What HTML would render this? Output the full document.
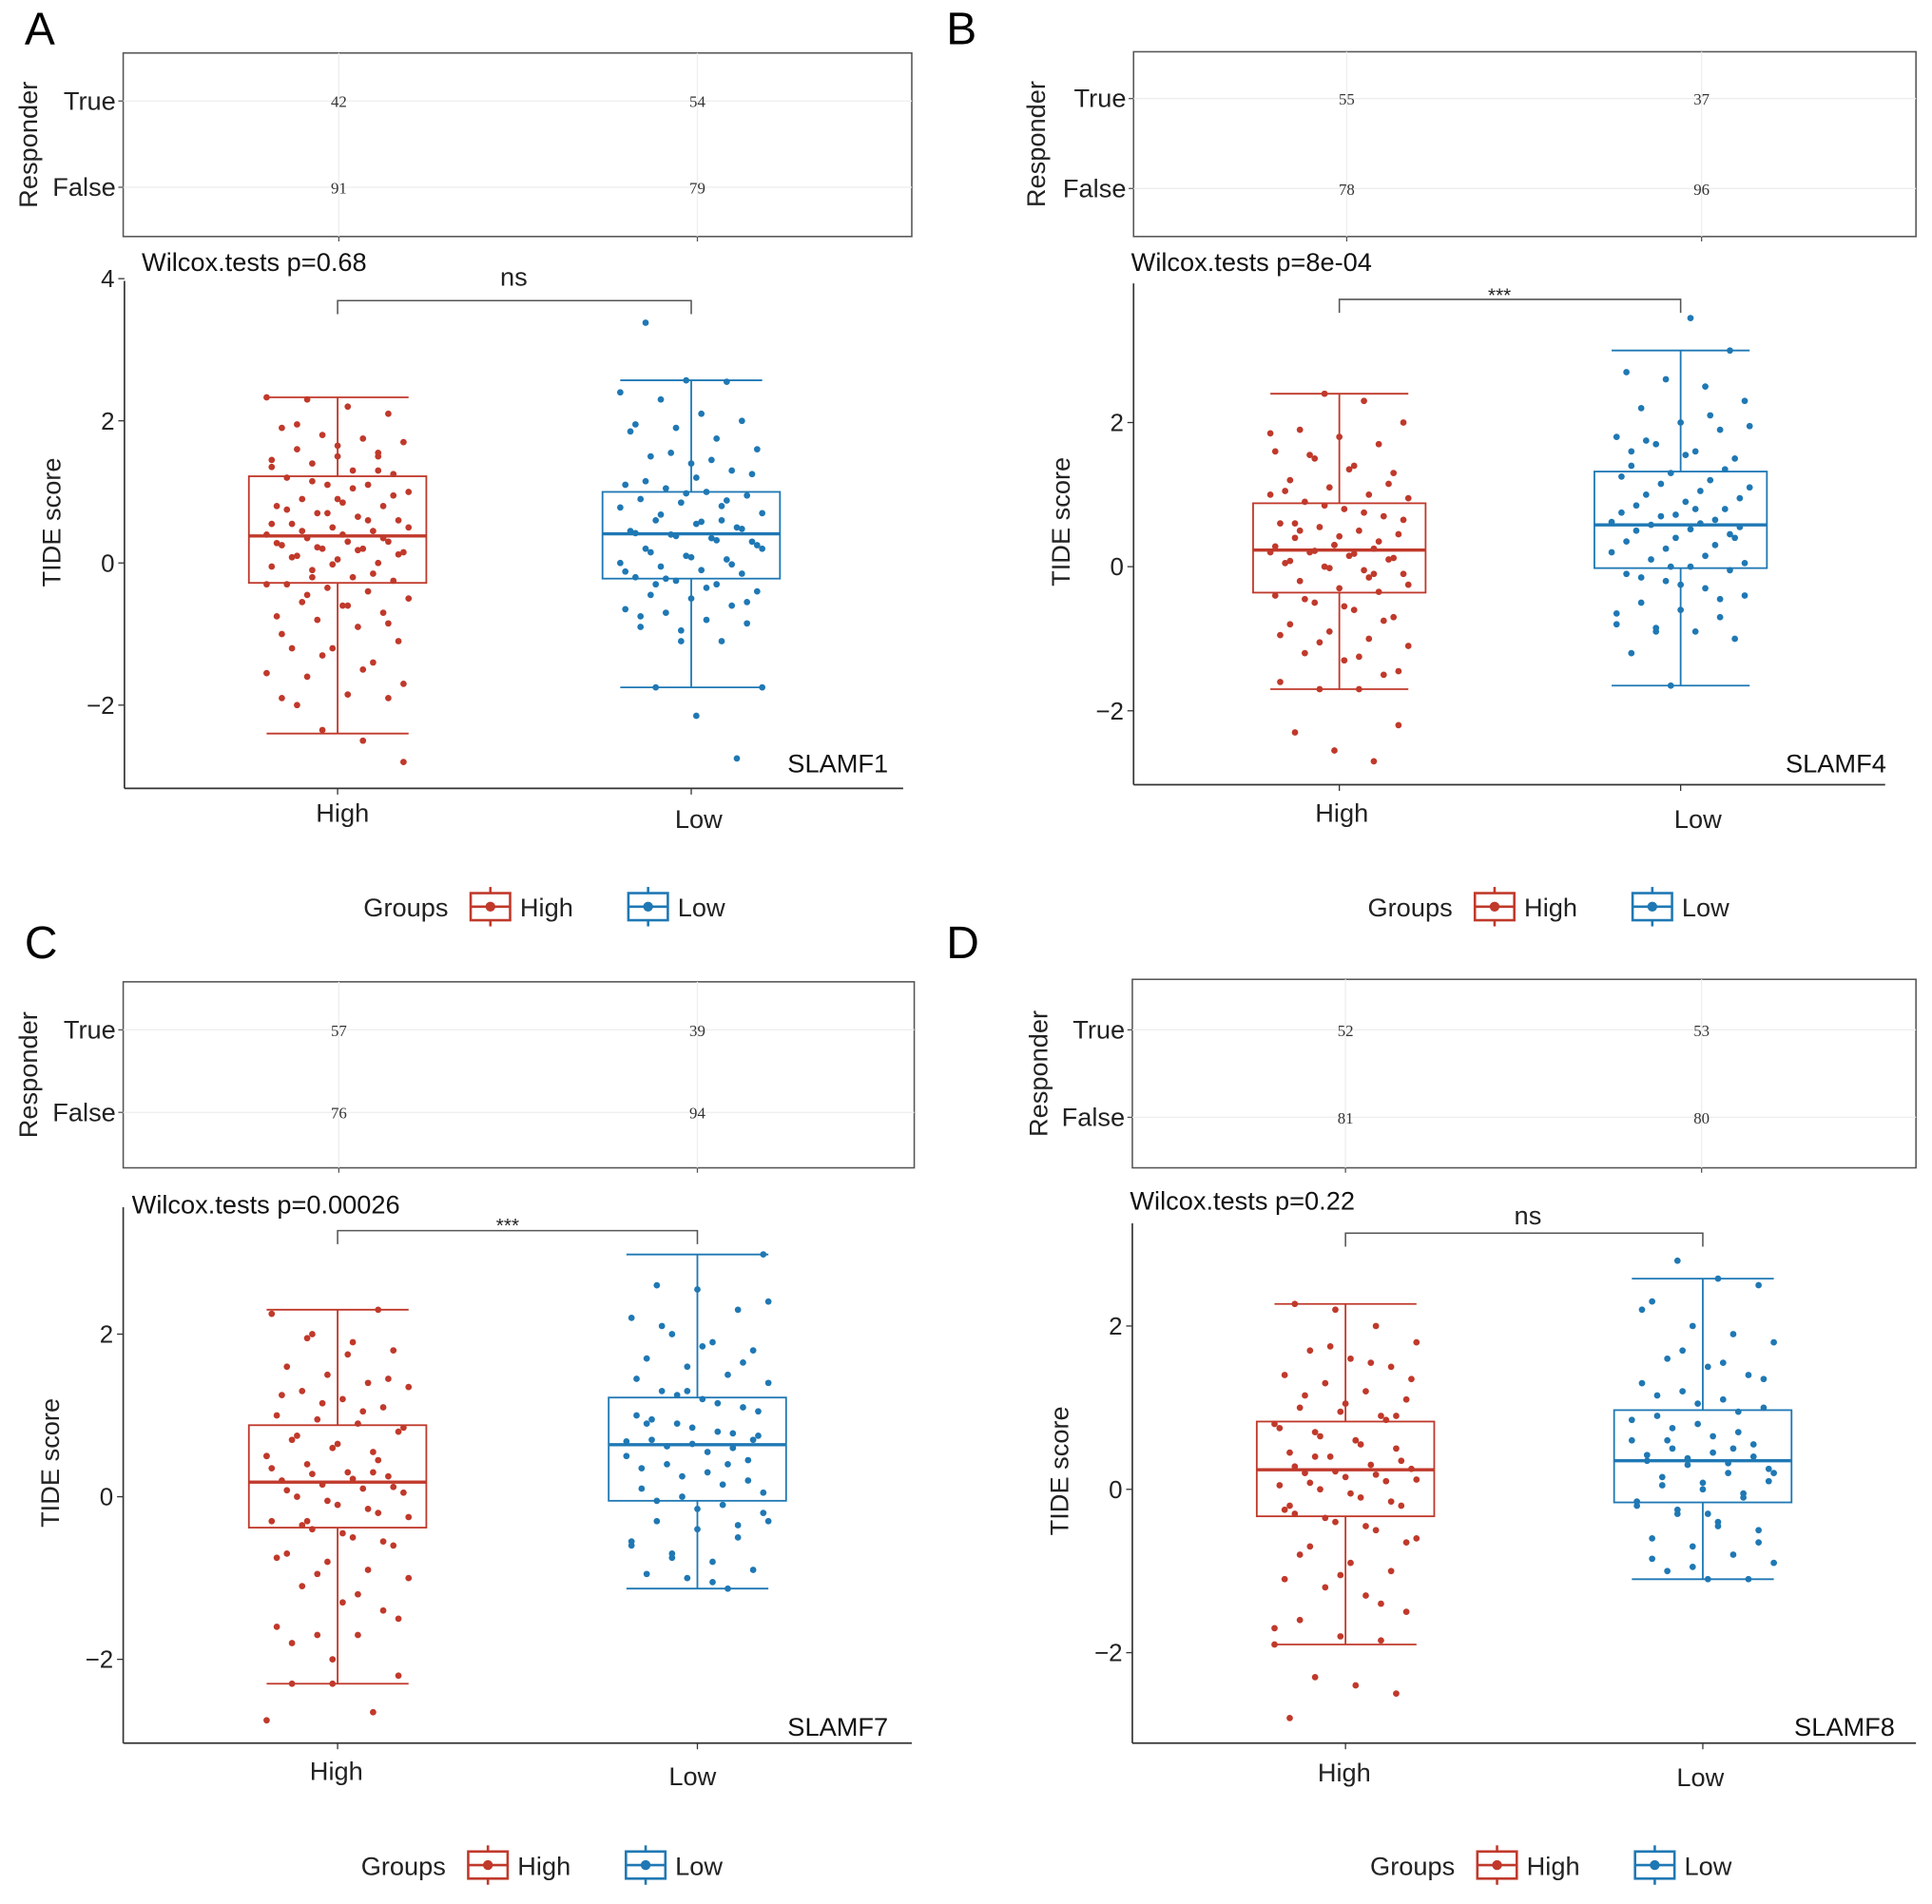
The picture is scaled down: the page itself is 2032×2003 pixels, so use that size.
<!DOCTYPE html>
<html><head><meta charset="utf-8"><style>
html,body{margin:0;padding:0;background:#fff}
svg{display:block;font-family:"Liberation Sans",sans-serif}
</style></head><body>
<svg id="fig" width="2032" height="2003" viewBox="0 0 1568 1545.6" xmlns="http://www.w3.org/2000/svg"></svg>
<script>
const categories = ["High","Low"];
const panelLetters = ["A","B","C","D"];
const genes = ["SLAMF1","SLAMF4","SLAMF7","SLAMF8"];
const pvalueLabels = ["Wilcox.tests p=0.68","Wilcox.tests p=8e-04","Wilcox.tests p=0.00026","Wilcox.tests p=0.22"];
const sigLabels = ["ns","***","***","ns"];
const countsTrue = [[42,54],[55,37],[57,39],[52,53]];
const countsFalse = [[91,79],[78,96],[76,94],[81,80]];
const yTicks = [[4,2,0,-2],[2,0,-2],[2,0,-2],[2,0,-2]];
// box stats [wlo,q1,med,q3,whi]
const boxHigh = [[-2.4,-0.28,0.38,1.22,2.33],[-1.7,-0.36,0.23,0.88,2.4],[-2.3,-0.38,0.18,0.88,2.3],[-1.9,-0.33,0.24,0.83,2.27]];
const boxLow = [[-1.75,-0.22,0.41,1.0,2.57],[-1.65,-0.02,0.58,1.32,3.0],[-1.13,-0.05,0.64,1.22,2.98],[-1.1,-0.16,0.35,0.97,2.58]];
const ptsHigh = [
[2.33,2.3,2.2,2.1,1.9,1.8,1.75,1.7,1.6,1.5,1.5,1.45,1.4,1.3,1.25,1.2,1.1,1.1,1.0,0.9,0.85,0.8,0.8,0.7,0.65,0.6,0.55,0.5,0.45,0.4,0.35,0.3,0.3,0.25,0.2,0.2,0.15,0.1,0.05,0,-0.05,-0.1,-0.2,-0.25,-0.3,-0.35,-0.4,-0.5,-0.55,-0.6,-0.7,-0.75,-0.8,-0.9,-1.1,-1.2,-1.2,-1.4,-1.55,-1.6,-1.85,-1.9,-1.9,-2.35,-2.5,-2.8,
 1.95,1.65,1.55,1.35,1.15,1.05,0.95,0.75,0.7,0.6,0.5,0.45,0.4,0.35,0.28,0.22,0.18,0.12,0.08,-0.02,-0.15,-0.3,-0.45,-0.6,-0.85,-1.0,-1.3,-1.5,-1.7,-2.0,0.9,1.3,0.55,-0.2],
[2.4,2.3,2.0,1.9,1.8,1.7,1.6,1.5,1.4,1.3,1.2,1.1,1.0,0.95,0.9,0.8,0.7,0.6,0.55,0.5,0.45,0.4,0.3,0.25,0.2,0.2,0.15,0.1,0.05,0,-0.05,-0.1,-0.2,-0.3,-0.35,-0.4,-0.5,-0.6,-0.7,-0.8,-0.9,-1.0,-1.1,-1.2,-1.3,-1.5,-1.6,-1.7,-1.7,-2.2,-2.3,-2.55,-2.7,
 1.85,1.55,1.35,1.15,1.05,0.85,0.75,0.65,0.5,0.42,0.35,0.28,0.22,0.18,0.12,0.08,-0.02,-0.15,-0.25,-0.45,-0.55,-0.75,-0.95,-1.05,-1.25,-1.45,0.6,0.3,-0.1,1.0],
[2.3,2.25,2.0,1.9,1.8,1.6,1.5,1.4,1.35,1.3,1.2,1.1,1.0,0.95,0.9,0.8,0.7,0.6,0.55,0.5,0.4,0.3,0.25,0.2,0.15,0.1,0.05,0,-0.1,-0.2,-0.3,-0.4,-0.5,-0.6,-0.7,-0.8,-0.9,-1.0,-1.1,-1.3,-1.4,-1.6,-1.7,-1.7,-2.2,-2.3,-2.3,-2.65,-2.75,
 1.95,1.75,1.45,1.25,1.15,1.05,0.85,0.75,0.65,0.45,0.35,0.28,0.22,0.12,0.08,-0.05,-0.15,-0.25,-0.35,-0.45,-0.55,-0.75,-0.95,-1.2,-1.5,-1.8,-2.0,0.3,0.5,-0.3],
[2.27,2.2,2.0,1.8,1.7,1.6,1.5,1.4,1.3,1.2,1.1,1.0,0.95,0.9,0.8,0.7,0.6,0.5,0.45,0.4,0.3,0.25,0.2,0.15,0.1,0.05,0,-0.1,-0.2,-0.3,-0.4,-0.5,-0.6,-0.7,-0.9,-1.0,-1.1,-1.2,-1.3,-1.5,-1.6,-1.8,-1.85,-1.9,-2.3,-2.4,-2.5,-2.8,
 1.75,1.55,1.35,1.15,1.05,0.85,0.75,0.65,0.55,0.35,0.28,0.22,0.18,0.12,0.08,-0.05,-0.15,-0.25,-0.35,-0.45,-0.65,-0.8,-1.05,-1.4,-1.7,0.4,0.6,0.9,-0.2]
];
const ptsLow = [
[3.38,2.57,2.55,2.4,2.3,2.1,2.0,1.95,1.9,1.75,1.6,1.5,1.4,1.3,1.1,1.05,1.0,0.95,0.9,0.85,0.8,0.7,0.6,0.55,0.5,0.45,0.4,0.35,0.3,0.2,0.1,0.05,0,-0.05,-0.1,-0.15,-0.2,-0.25,-0.3,-0.4,-0.45,-0.5,-0.6,-0.65,-0.7,-0.8,-0.85,-0.9,-1.1,-1.1,-1.75,-1.75,-2.15,-2.75,
 1.85,1.55,1.45,1.25,1.15,0.98,0.88,0.78,0.68,0.58,0.48,0.42,0.38,0.32,0.25,0.15,0.08,-0.02,-0.12,-0.22,-0.35,-0.55,-0.75,-0.95,0.6,0.2,-0.3,1.2],
[3.45,3.0,2.7,2.6,2.5,2.3,2.2,2.0,1.9,1.8,1.7,1.6,1.5,1.4,1.3,1.2,1.1,1.0,0.9,0.8,0.75,0.7,0.6,0.55,0.5,0.4,0.3,0.2,0.1,0,-0.05,-0.1,-0.2,-0.3,-0.4,-0.5,-0.6,-0.7,-0.8,-0.85,-0.9,-1.0,-1.2,-1.65,
 2.1,1.95,1.75,1.55,1.35,1.25,1.15,1.05,0.95,0.85,0.72,0.65,0.62,0.58,0.52,0.45,0.35,0.25,0.15,0.05,-0.15,-0.25,-0.45,-0.65,-0.9,0.8,0.4,1.6,0.0],
[2.98,2.6,2.55,2.3,2.2,2.0,1.9,1.8,1.7,1.6,1.5,1.4,1.3,1.2,1.1,1.0,0.9,0.8,0.75,0.7,0.65,0.6,0.5,0.4,0.3,0.2,0.1,0,-0.1,-0.2,-0.3,-0.4,-0.5,-0.6,-0.7,-0.8,-0.9,-0.95,-1.0,-1.13,
 2.4,2.1,1.85,1.65,1.45,1.25,1.15,1.05,0.95,0.85,0.78,0.68,0.62,0.55,0.45,0.35,0.25,0.15,0.05,-0.05,-0.15,-0.35,-0.55,-0.75,-1.05,0.7,0.9,1.3,0.4,-0.3],
[2.8,2.58,2.5,2.3,2.0,1.9,1.8,1.6,1.5,1.4,1.3,1.2,1.1,1.0,0.9,0.8,0.7,0.6,0.5,0.45,0.4,0.35,0.3,0.2,0.1,0.05,0,-0.1,-0.2,-0.3,-0.4,-0.5,-0.6,-0.7,-0.8,-0.9,-1.0,-1.1,-1.1,
 2.2,1.7,1.55,1.35,1.15,1.05,0.95,0.85,0.75,0.65,0.55,0.42,0.38,0.32,0.25,0.15,0.08,-0.05,-0.15,-0.25,-0.45,-0.65,-0.85,-0.95,0.5,0.2,0.6,-0.3]
];
// layout (display coordinates)
const L = [
 {tb:[100,43,740,192],tY:[82,152],tX:[275,566],ax:101,top:228,bot:640,xr:733,y0:457,unit:57.7,cx:[274,561],hw:72,wil:[115,220],br:244,sig:[417,232],gene:[680,627],xl:[[278,667],[567,672]],leg:736,legx:295,let:[20,36],resp:22},
 {tb:[920,42,1555,192],tY:[80,153],tX:[1093,1381],ax:920,top:230,bot:637,xr:1530,y0:460,unit:58.5,cx:[1087,1364],hw:70,wil:[918,220],br:243,sig:[1217,245],gene:[1490,627],xl:[[1089,667],[1378,672]],leg:736,legx:1110,let:[768,36],resp:840},
 {tb:[100,797,742,948],tY:[836,903],tX:[275,566],ax:100,top:980,bot:1415,xr:740,y0:1215,unit:66,cx:[274,566],hw:72,wil:[107,985],br:999,sig:[412,1000],gene:[680,1409],xl:[[273,1445],[562,1449]],leg:1514,legx:293,let:[20,778],resp:22},
 {tb:[919,795,1555,948],tY:[836,907],tX:[1092,1381],ax:919,top:993,bot:1415,xr:1555,y0:1209,unit:66.3,cx:[1092,1382],hw:72,wil:[917,982],br:1001,sig:[1240,994],gene:[1497,1409],xl:[[1091,1446],[1380,1450]],leg:1514,legx:1112,let:[768,778],resp:842}
];
const colors = ["#C0392B","#1F78B4"];
const svg = document.getElementById('fig');
const NS = "http://www.w3.org/2000/svg";
function mk(tag, attrs, parent, text){
  const e = document.createElementNS(NS, tag);
  for (const k in attrs) e.setAttribute(k, attrs[k]);
  if (text !== undefined) e.textContent = text;
  (parent||svg).appendChild(e); return e;
}
L.forEach((p, i) => {
  const g = mk('g', {});
  
  
  const yS = v => p.y0 - v * p.unit;
  let t = mk('text', {x:p.let[0], y:p.let[1], 'font-size':37}, g, panelLetters[i]);
   
  const tb = p.tb;
  let r = mk('rect', {x:tb[0], y:tb[1], width:tb[2]-tb[0], height:tb[3]-tb[1], fill:'#fff', stroke:'#555', 'stroke-width':1.2}, g);
   
  p.tY.forEach(y => mk('line', {x1:tb[0], x2:tb[2], y1:y, y2:y, stroke:'#eee'}, g));
  p.tX.forEach(x => { mk('line', {x1:x, x2:x, y1:tb[1], y2:tb[3], stroke:'#eee'}, g); mk('line', {x1:x, x2:x, y1:tb[3], y2:tb[3]+4, stroke:'#555'}, g); });
  ['True','False'].forEach((lab, k) => {
    mk('line', {x1:tb[0]-4, x2:tb[0], y1:p.tY[k], y2:p.tY[k], stroke:'#555'}, g);
    let tt = mk('text', {x:tb[0]-6, y:p.tY[k]+7, 'font-size':21, 'text-anchor':'end', fill:'#222'}, g, lab);
     
    const vals = k === 0 ? countsTrue[i] : countsFalse[i];
    vals.forEach((v, c) => {
      let n = mk('text', {x:p.tX[c], y:p.tY[k]+5, 'font-size':13, 'text-anchor':'middle', 'font-family':'Liberation Serif,serif', fill:'#333'}, g, v);
       
    });
  });
  const rc = (tb[1]+tb[3])/2;
  let rt = mk('text', {x:p.resp+8, y:rc, 'font-size':21, 'text-anchor':'middle', transform:`rotate(-90 ${p.resp+8} ${rc})`, fill:'#222'}, g, 'Responder');
   
  mk('line', {x1:p.ax, x2:p.ax, y1:p.top, y2:p.bot, stroke:'#333', 'stroke-width':1.3}, g);
  mk('line', {x1:p.ax, x2:p.xr, y1:p.bot, y2:p.bot, stroke:'#333', 'stroke-width':1.3}, g);
  yTicks[i].forEach(v => {
    mk('line', {x1:p.ax-5, x2:p.ax, y1:yS(v), y2:yS(v), stroke:'#333'}, g);
    let yt = mk('text', {x:p.ax-8, y:yS(v)+7, 'font-size':20, 'text-anchor':'end', fill:'#222'}, g, v < 0 ? '\u2212' + Math.abs(v) : String(v));
     
  });
  const ym = (p.top+p.bot)/2 - 10;
  let yt = mk('text', {x:p.ax-52, y:ym, 'font-size':21, 'text-anchor':'middle', transform:`rotate(-90 ${p.ax-52} ${ym})`, fill:'#222'}, g, 'TIDE score');
   
  categories.forEach((c, k) => {
    mk('line', {x1:p.cx[k], x2:p.cx[k], y1:p.bot, y2:p.bot+5, stroke:'#333'}, g);
    let xt = mk('text', {x:p.xl[k][0], y:p.xl[k][1], 'font-size':21, 'text-anchor':'middle', fill:'#222'}, g, c);
     
  });
  let wt = mk('text', {x:p.wil[0], y:p.wil[1], 'font-size':21, fill:'#111'}, g, pvalueLabels[i]);
   
  mk('path', {d:`M${p.cx[0]} ${p.br+11}V${p.br}H${p.cx[1]}V${p.br+11}`, fill:'none', stroke:'#555', 'stroke-width':1.2}, g);
  let st = mk('text', {x:p.sig[0], y:p.sig[1], 'font-size':sigLabels[i]==='ns'?21:16, 'text-anchor':'middle', fill:'#222'}, g, sigLabels[i]);
   
  let gt = mk('text', {x:p.gene[0], y:p.gene[1], 'font-size':21, 'text-anchor':'middle', fill:'#111'}, g, genes[i]);
   
  [boxHigh[i], boxLow[i]].forEach((b, k) => {
    const cx = p.cx[k], col = colors[k], hw = p.hw;
    const bg = mk('g', {stroke:col, 'stroke-width':1.4, fill:'none'}, g);
    
    
    mk('line', {x1:cx, x2:cx, y1:yS(b[0]), y2:yS(b[1])}, bg);
    mk('line', {x1:cx, x2:cx, y1:yS(b[3]), y2:yS(b[4])}, bg);
    mk('line', {x1:cx-hw*0.8, x2:cx+hw*0.8, y1:yS(b[0]), y2:yS(b[0])}, bg);
    mk('line', {x1:cx-hw*0.8, x2:cx+hw*0.8, y1:yS(b[4]), y2:yS(b[4])}, bg);
    mk('rect', {x:cx-hw, y:yS(b[3]), width:2*hw, height:yS(b[1])-yS(b[3])}, bg);
    mk('line', {x1:cx-hw, x2:cx+hw, y1:yS(b[2]), y2:yS(b[2]), 'stroke-width':2.6}, bg);
    const pts = k === 0 ? ptsHigh[i] : ptsLow[i];
    pts.forEach((v, j) => {
      const jit = (((j * 37 + i * 11 + k * 5) % 29) / 28 - 0.5) * 2 * hw * 0.8;
      const c = mk('circle', {cx:cx + jit, cy:yS(v), r:2.6, fill:col, stroke:'none'}, g);
      
      
    });
  });
  const lg = mk('g', {}, g);
   
  mk('text', {x:p.legx, y:p.leg+8, 'font-size':21, fill:'#222'}, lg, 'Groups');
  const keyX = [p.legx+87, p.legx+215];
  categories.forEach((c, k) => {
    const kx = keyX[k], col = colors[k];
    const e = mk('g', {stroke:col, 'stroke-width':2, fill:'none'}, lg);
    
    
    mk('line', {x1:kx+16, x2:kx+16, y1:p.leg-16, y2:p.leg+16}, e);
    mk('rect', {x:kx, y:p.leg-11, width:32, height:22, fill:'#fff'}, e);
    mk('line', {x1:kx, x2:kx+32, y1:p.leg, y2:p.leg}, e);
    mk('circle', {cx:kx+16, cy:p.leg, r:4, fill:col, stroke:'none'}, e);
    mk('text', {x:kx+40, y:p.leg+8, 'font-size':21, fill:'#222', stroke:'none'}, e, c);
  });
});
</script>
</body></html>
